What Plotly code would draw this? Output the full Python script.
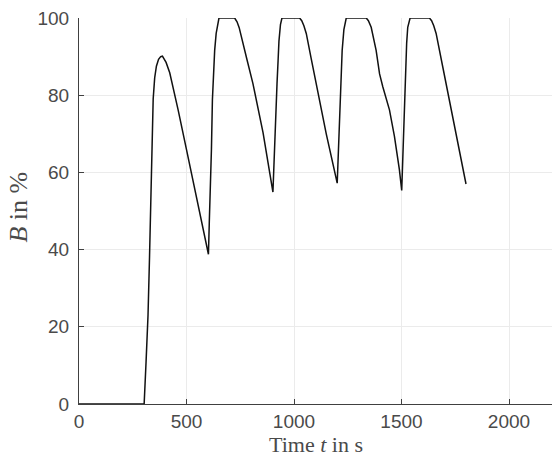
import plotly.graph_objects as go

# Time (s) and B (%)
time_s = [0, 303, 312, 321, 328, 333, 337, 341, 345, 352, 360, 370, 380, 388, 396, 405, 422, 440, 461, 500, 550, 602,
          606, 611, 616, 620.5, 626, 631, 638, 645, 651, 724, 735, 745, 755, 780, 809, 856, 902,
          906, 913, 921, 926, 930, 937, 944, 1026, 1036, 1046, 1057, 1080, 1104, 1150, 1201,
          1205, 1212, 1218, 1224, 1232, 1243, 1336, 1346, 1359, 1382, 1398, 1413, 1444, 1467, 1490, 1501,
          1505, 1509, 1518, 1524, 1529, 1540, 1630, 1640, 1650, 1661, 1692, 1723, 1761, 1800]
b_pct = [0, 0, 11, 23, 38, 51, 63, 72, 79, 84.5, 87.5, 89.3, 90, 90.1, 89.5, 88.5, 85.8, 81.5, 76.2, 65.9, 52.6, 38.8,
         47, 55, 66, 78.8, 86, 91.6, 96, 98.8, 100, 100, 99, 97.5, 95, 89.5, 83, 70.3, 54.9,
         62, 70, 83, 89, 94, 98.3, 100, 100, 99.3, 98, 96, 89.5, 83, 70, 57.2,
         63, 70, 82, 91.6, 97, 100, 100, 99.3, 97.6, 91.6, 85.5, 82.2, 76.2, 69.4, 60.8, 55.3,
         62, 70, 87.3, 93.5, 97.6, 100, 100, 99.3, 98, 96, 87.3, 78.8, 67.7, 57]

x_ticks = [0, 500, 1000, 1500, 2000]
y_ticks = [0, 20, 40, 60, 80, 100]

axis_col = "#404040"
txt_col = "#4a4a4a"

fig = go.Figure()
fig.add_trace(go.Scatter(x=time_s, y=b_pct, mode="lines",
                         line=dict(color="#111111", width=1.5), showlegend=False))

fig.update_layout(
    width=552, height=458,
    margin=dict(l=79, r=0, t=18, b=54),
    paper_bgcolor="white", plot_bgcolor="white",
    font=dict(family="Liberation Sans, Arial, sans-serif", size=19, color=txt_col),
)
fig.update_xaxes(range=[0, 2200], tickvals=x_ticks, ticktext=[str(v) for v in x_ticks],
                 showgrid=True, gridcolor="#ebebeb", gridwidth=1,
                 showline=True, linecolor=axis_col, linewidth=1.2,
                 ticks="inside", ticklen=5, tickcolor=axis_col, zeroline=False,
                 ticklabelstandoff=0, automargin=False)
fig.update_yaxes(range=[0, 100], tickvals=y_ticks, ticktext=[str(v) for v in y_ticks],
                 showgrid=True, gridcolor="#ebebeb", gridwidth=1,
                 showline=True, linecolor=axis_col, linewidth=1.2,
                 ticks="inside", ticklen=5, tickcolor=axis_col, zeroline=False,
                 ticklabelstandoff=5, automargin=False)

fig.add_annotation(text="Time <i>t</i> in s", xref="paper", yref="paper",
                   x=0.5, y=-0.0674, xanchor="center", yanchor="top", showarrow=False,
                   font=dict(family="Liberation Serif, Times New Roman, serif", size=22, color=txt_col))
fig.add_annotation(text="<i>B</i> in %", xref="paper", yref="paper",
                   x=-0.128, y=0.51, xanchor="center", yanchor="middle", textangle=-90, showarrow=False,
                   font=dict(family="Liberation Serif, Times New Roman, serif", size=26, color=txt_col))

fig.write_html("out.html")
